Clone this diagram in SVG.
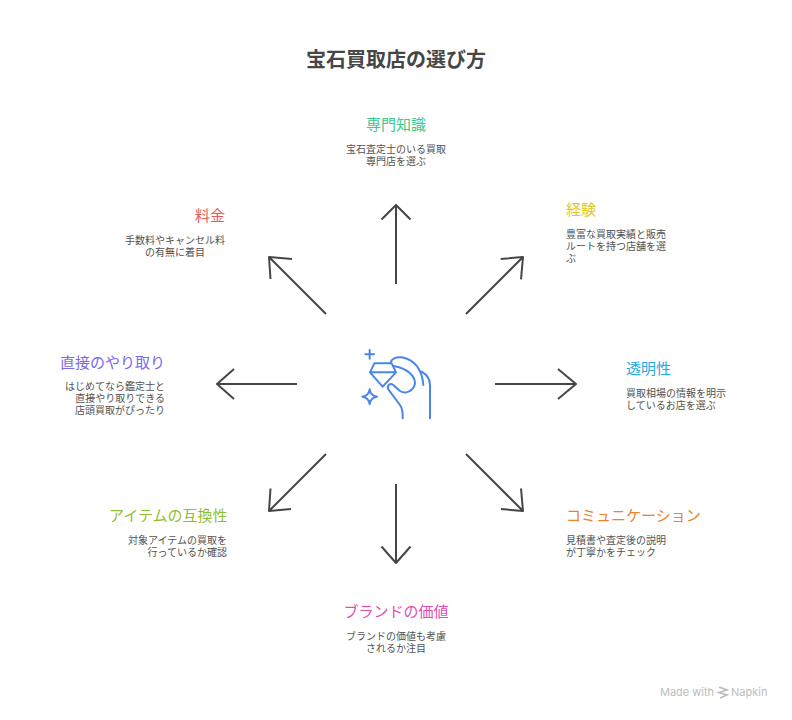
<svg xmlns="http://www.w3.org/2000/svg" width="792" height="720" viewBox="0 0 792 720">
<style>
text{font-family:"Noto Sans CJK JP","Noto Sans",sans-serif;}
.t{font-size:20px;font-weight:700;fill:#464646;}
.h{font-size:15px;}
.s{font-size:10px;fill:#525252;}
.m{text-anchor:middle;}
.e{text-anchor:end;}
.a{fill:none;stroke:#464646;stroke-width:2;stroke-linecap:butt;stroke-linejoin:round;}
.i{fill:none;stroke:#4a86e8;stroke-width:6;stroke-linecap:round;stroke-linejoin:round;}
.w{font-family:"Inter","Noto Sans",sans-serif;font-size:11px;fill:#bdbdbd;}
</style>
<rect width="792" height="720" fill="#ffffff"/>
<text id="title" class="t m" x="396" y="67">宝石買取店の選び方</text>
<g id="connectors" class="a">
<path d="M396 284V205M381.500 219.500L396 205L410.500 219.500"/>
<path d="M466 314L523 257M500.700 259L523 257L521 279.300"/>
<path d="M495 384H576M558 369L576 384L558 399"/>
<path d="M466 454L523 511M521 488.500L523 511L501 509"/>
<path d="M396 484V563M381.500 546.500L396 563L410.500 546.500"/>
<path d="M326 454L269 511M270.500 488.500L269 511L291 509"/>
<path d="M297 384H217M234 369L217 384L234 399"/>
<path d="M326 314L269 257M270.500 279L269 257L292 259"/>
</g>
<g id="center-icon" transform="translate(340 330) scale(.33333)">
<path class="i" d="M89 60V86M76 73H102"/>
<path class="i" d="M89 178C91 192 97 198 111 200C97 202 91 208 89 222C87 208 81 202 67 200C81 198 87 192 89 178Z"/>
<path class="i" d="M103 100H155L168 127L128 170L90 127ZM90 127H168"/>
<path class="i" d="M152 98C155 85 170 80 185 82C215 88 245 105 250 165"/>
<path class="i" d="M160 108C205 115 225 140 225 160C222 180 200 195 180 183L160 165C150 158 140 165 145 178L180 225C190 240 188 250 188 265"/>
<path class="i" d="M245 125C262 135 270 150 270 165V265"/>
</g>
<g id="node-expertise">
<text class="h m" x="396" y="130" fill="#3cc98e">専門知識</text>
<text class="s m"><tspan x="396" y="152.500">宝石査定士のいる買取</tspan><tspan x="396" y="164.500">専門店を選ぶ</tspan></text>
</g>
<g id="node-experience">
<text class="h" x="566" y="215" fill="#e2c81e">経験</text>
<text class="s"><tspan x="566" y="237.500">豊富な買取実績と販売</tspan><tspan x="566" y="249.500">ルートを持つ店舗を選</tspan><tspan x="566" y="261.500">ぶ</tspan></text>
</g>
<g id="node-transparency">
<text class="h" x="626" y="374" fill="#24a8e0">透明性</text>
<text class="s"><tspan x="626" y="396.500">買取相場の情報を明示</tspan><tspan x="626" y="408.500">しているお店を選ぶ</tspan></text>
</g>
<g id="node-communication">
<text class="h" x="566" y="521" fill="#e8842c">コミュニケーション</text>
<text class="s"><tspan x="566" y="543.500">見積書や査定後の説明</tspan><tspan x="566" y="555.500">が丁寧かをチェック</tspan></text>
</g>
<g id="node-brand">
<text class="h m" x="396" y="617" fill="#e24fb0">ブランドの価値</text>
<text class="s m"><tspan x="396" y="639.500">ブランドの価値も考慮</tspan><tspan x="396" y="651.500">されるか注目</tspan></text>
</g>
<g id="node-compat">
<text class="h e" x="227.500" y="521" fill="#8fc031">アイテムの互換性</text>
<text class="s e"><tspan x="227" y="543.500">対象アイテムの買取を</tspan><tspan x="227" y="555.500">行っているか確認</tspan></text>
</g>
<g id="node-direct">
<text class="h e" x="165" y="368" fill="#7b68ee">直接のやり取り</text>
<text class="s e"><tspan x="165" y="389.500">はじめてなら鑑定士と</tspan><tspan x="165" y="401.500">直接やり取りできる</tspan><tspan x="165" y="413.500">店頭買取がぴったり</tspan></text>
</g>
<g id="node-fee">
<text class="h e" x="225" y="221" fill="#e75a5a">料金</text>
<text class="s m"><tspan x="175" y="243.500">手数料やキャンセル料</tspan><tspan x="175" y="255.500">の有無に着目</tspan></text>
</g>
<g id="watermark">
<text class="w" x="660" y="696">Made with</text>
<path d="M719 687L727 690L719 692.500L727 695L720 698" fill="none" stroke="#bdbdbd" stroke-width="1.800"/>
<text class="w" x="731" y="696">Napkin</text>
</g>
</svg>
